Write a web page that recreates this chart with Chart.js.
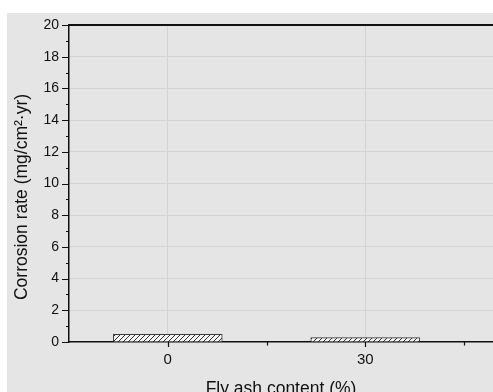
<!DOCTYPE html>
<html>
<head>
<meta charset="utf-8">
<script src="https://cdn.jsdelivr.net/npm/chart.js@4/dist/chart.umd.min.js"></script>
<style>
  html, body { margin: 0; padding: 0; background: #ffffff; }
  #wrap { width: 493px; height: 392px; position: relative; }
  canvas { display: block; }
</style>
</head>
<body>
<div id="wrap"><canvas id="chart" width="493" height="392"></canvas></div>
<script>
// Fly ash content (%) and measured corrosion rate (mg/cm²·yr)
const flyAshContent = [0, 30];
const corrosionRate = [0.48, 0.28];

// Axis ticks
const xLabelledTicks = [0, 30];
const xMinorTicks = [15, 45];
const yMajorTicks = [0, 2, 4, 6, 8, 10, 12, 14, 16, 18, 20];

const xTitle = 'Fly ash content (%)';
const yTitle = 'Corrosion rate (mg/cm\u00B2\u00B7yr)';

const FONT = '"Liberation Sans", Arial, Helvetica, sans-serif';
const PANEL = '#e5e5e5';
const GRID = '#d3d3d3';
const INK = '#111111';

// Diagonal hatch fill for the bars
function makeHatch() {
  const s = 5;
  const c = document.createElement('canvas');
  c.width = s; c.height = s;
  const g = c.getContext('2d');
  g.fillStyle = '#f4f4f4';
  g.fillRect(0, 0, s, s);
  g.strokeStyle = '#333333';
  g.lineWidth = 1;
  g.beginPath();
  g.moveTo(-1, s + 1); g.lineTo(s + 1, -1);
  g.moveTo(-1, 1); g.lineTo(1, -1);
  g.moveTo(s - 1, s + 1); g.lineTo(s + 1, s - 1);
  g.stroke();
  return g.createPattern(c, 'repeat');
}

const panelPlugin = {
  id: 'panel',
  beforeDraw(chart) {
    const ctx = chart.ctx;
    ctx.save();
    ctx.fillStyle = PANEL;
    ctx.fillRect(7, 13, chart.width - 7, chart.height - 13);
    ctx.restore();
  }
};

const framePlugin = {
  id: 'frame',
  afterDraw(chart) {
    const { ctx, chartArea: a } = chart;
    const xs = chart.scales.x, ys = chart.scales.y;
    ctx.save();
    ctx.strokeStyle = INK;
    // top frame line
    ctx.lineWidth = 2;
    ctx.beginPath();
    ctx.moveTo(a.left - 0.75, a.top);
    ctx.lineTo(a.right, a.top);
    ctx.stroke();
    // y tick marks: majors on even values, minors between
    ctx.lineWidth = 1.2;
    ctx.beginPath();
    for (let v = ys.min; v <= ys.max; v += 1) {
      const y = Math.round(ys.getPixelForValue(v)) + 0.5;
      const len = yMajorTicks.includes(v) ? 7 : 3;
      ctx.moveTo(a.left - len, y);
      ctx.lineTo(a.left, y);
    }
    // x tick marks
    xLabelledTicks.forEach(v => {
      const x = Math.round(xs.getPixelForValue(v)) + 0.5;
      ctx.moveTo(x, a.bottom); ctx.lineTo(x, a.bottom + 5);
    });
    xMinorTicks.forEach(v => {
      const x = Math.round(xs.getPixelForValue(v)) + 0.5;
      ctx.moveTo(x, a.bottom); ctx.lineTo(x, a.bottom + 3.5);
    });
    ctx.stroke();

    // axis titles
    ctx.fillStyle = INK;
    ctx.font = '17.5px ' + FONT;
    ctx.textAlign = 'center';
    ctx.textBaseline = 'alphabetic';
    ctx.fillText(xTitle, (a.left + a.right) / 2, 394);
    ctx.translate(22, 197);
    ctx.rotate(-Math.PI / 2);
    ctx.textBaseline = 'middle';
    ctx.fillText(yTitle, 0, 0);
    ctx.restore();
  }
};

new Chart(document.getElementById('chart'), {
  type: 'bar',
  data: {
    datasets: [{
      data: flyAshContent.map((x, i) => ({ x: x, y: corrosionRate[i] })),
      backgroundColor: makeHatch(),
      borderColor: '#3a3a3a',
      borderWidth: 1,
      borderSkipped: 'bottom',
      barThickness: 109
    }]
  },
  options: {
    responsive: false,
    animation: false,
    devicePixelRatio: 1,
    layout: { padding: { top: 25, left: 0, right: 0, bottom: 0 } },
    plugins: { legend: { display: false }, tooltip: { enabled: false }, title: { display: false } },
    scales: {
      x: {
        type: 'linear',
        min: -15,
        max: 49.4,
        offset: false,
        afterBuildTicks(scale) {
          scale.ticks = [-15, 0, 15, 30, 45].map(v => ({ value: v }));
        },
        afterFit(scale) { scale.height = 50; scale.paddingLeft = 0; scale.paddingRight = 0; },
        ticks: {
          autoSkip: false,
          maxRotation: 0,
          padding: 9,
          color: INK,
          font: { family: FONT, size: 15 },
          callback: v => (xLabelledTicks.includes(v) ? String(v) : '')
        },
        grid: {
          offset: false,
          drawTicks: false,
          lineWidth: 1,
          color: ctx => (ctx.tick && xLabelledTicks.includes(ctx.tick.value) ? GRID : 'rgba(0,0,0,0)')
        },
        border: { display: true, color: INK, width: 1.5 }
      },
      y: {
        min: 0,
        max: 20,
        afterBuildTicks(scale) {
          const t = [];
          for (let v = 0; v <= 20; v++) t.push({ value: v });
          scale.ticks = t;
        },
        afterFit(scale) { scale.width = 69; scale.paddingTop = 0; scale.paddingBottom = 0; },
        ticks: {
          autoSkip: false,
          padding: 10,
          color: INK,
          font: { family: FONT, size: 14 },
          callback: v => (yMajorTicks.includes(v) ? String(v) : '')
        },
        grid: {
          drawTicks: false,
          lineWidth: 1,
          color: ctx => (ctx.tick && yMajorTicks.includes(ctx.tick.value) && ctx.tick.value > 0 && ctx.tick.value < 20 ? GRID : 'rgba(0,0,0,0)')
        },
        border: { display: true, color: INK, width: 1.5 }
      }
    }
  },
  plugins: [panelPlugin, framePlugin]
});
</script>
</body>
</html>
